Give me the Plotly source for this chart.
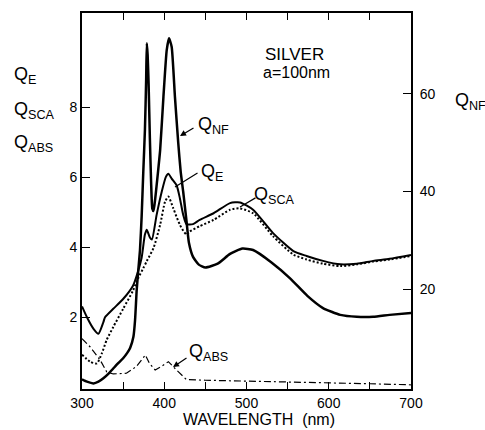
import plotly.graph_objects as go

# ---- data ----
wl_nf = [300, 306, 314, 320, 326, 332, 338, 344, 350, 355, 358.5, 362.5, 364.5, 366.5, 368.5,
         370.5, 372.5, 374.5, 376.5, 378, 378.8, 379.8, 381, 382.5, 384, 385.5, 387, 389, 391,
         395, 399, 403, 405.8, 409, 413, 417, 420, 423, 427, 430, 435, 442, 450, 465, 480, 495,
         508, 530, 553, 574, 593, 614, 634, 654, 674, 700]
q_nf = [1.5, 1.0, 0.65, 1.0, 1.7, 2.6, 3.7, 4.8, 5.8, 6.9, 7.9, 10.2, 13.6, 19.8, 24,
        28, 34.8, 44, 52.6, 63, 70.4, 68, 62, 51, 42, 36.5, 36, 38.5, 41.7,
        48.5, 59.4, 69, 71.4, 69.7, 59.4, 50, 44, 40, 34, 29.5, 26.6, 25.0, 24.4, 25.2, 27.2, 28.3,
        28.0, 25.5, 22.2, 18.6, 16.1, 14.7, 14.3, 14.3, 14.7, 15.1]

wl_e = [300, 306, 314, 320, 326, 328, 338, 350, 362, 368, 372.5, 376.5, 378.7, 382.7, 385,
        390.8, 397, 402, 405, 409, 415, 419, 423, 427, 435, 443, 460, 480, 492, 508, 532, 557,
        573, 593, 614, 634, 654, 674, 700]
q_e = [2.31, 2.0, 1.67, 1.53, 1.86, 2.0, 2.24, 2.52, 2.9, 3.3, 3.7, 4.36, 4.5, 4.27, 4.22,
       4.93, 5.59, 6.01, 6.1, 5.96, 5.77, 5.4, 4.93, 4.66, 4.66, 4.78, 4.97, 5.26, 5.28, 5.07, 4.41, 3.89,
       3.75, 3.61, 3.51, 3.53, 3.61, 3.67, 3.78]

wl_sca = [300, 310, 318, 324, 330, 338, 350, 362, 368, 374.5, 378.7, 387, 395, 401, 405, 411,
          419, 427, 431, 443, 460, 480, 492, 508, 532, 557, 573, 593, 614, 634, 654, 674, 700]
q_sca = [0.93, 0.73, 0.68, 0.96, 1.35, 1.72, 2.24, 2.76, 3.1, 3.4, 3.6, 3.98, 4.64, 5.3, 5.45, 5.11,
         4.64, 4.36, 4.45, 4.6, 4.78, 5.07, 5.11, 4.97, 4.32, 3.79, 3.65, 3.53, 3.46, 3.51, 3.59, 3.65, 3.75]

wl_abs = [300, 310, 322, 330, 338, 354, 366, 371, 377, 382, 389, 397, 405, 415, 427, 450, 500,
          550, 600, 650, 700]
q_abs = [1.39, 1.15, 0.78, 0.44, 0.38, 0.4, 0.59, 0.75, 0.92, 0.68, 0.49, 0.6, 0.73, 0.49, 0.22, 0.2, 0.18,
         0.15, 0.12, 0.1, 0.07]

x_tickvals = [300, 350, 400, 450, 500, 550, 600, 650, 700]
x_ticktext = ["300", "", "400", "", "500", "", "600", "", "700"]
yl_tickvals = [2, 4, 6, 8]
yr_tickvals = [20, 40, 60]

FONT = "Liberation Sans"
W, H = 485, 430
L, R, T, B = 82, 74, 13, 41

def px(xp):
    return (xp - L) / (W - L - R)

def py(yp):
    return (H - B - yp) / (H - T - B)

fig = go.Figure()
fig.add_trace(go.Scatter(x=wl_nf, y=q_nf, yaxis="y2", mode="lines",
                         line=dict(color="black", width=2.5, shape="spline", smoothing=0.5)))
fig.add_trace(go.Scatter(x=wl_e, y=q_e, mode="lines",
                         line=dict(color="black", width=2, shape="spline", smoothing=0.6)))
fig.add_trace(go.Scatter(x=wl_sca, y=q_sca, mode="lines",
                         line=dict(color="black", width=2, dash="2px,2px", shape="spline", smoothing=0.6)))
fig.add_trace(go.Scatter(x=wl_abs, y=q_abs, mode="lines",
                         line=dict(color="black", width=1.2, dash="7px,3px,2px,3px")))

ann = []
def label(txt, xp, yp, size=18, xanchor="left"):
    ann.append(dict(text=txt, x=px(xp), y=py(yp), xref="paper", yref="paper",
                    xanchor=xanchor, yanchor="middle", showarrow=False,
                    font=dict(family=FONT, size=size, color="black")))

# outside left labels
label("Q<sub>E</sub>", 12, 76)
label("Q<sub>SCA</sub>", 12, 110)
label("Q<sub>ABS</sub>", 12, 143)
# right label
label("Q<sub>NF</sub>", 453, 101)
# inner labels
label("Q<sub>NF</sub>", 196, 125)
label("Q<sub>E</sub>", 199, 172)
label("Q<sub>SCA</sub>", 252, 195)
label("Q<sub>ABS</sub>", 187, 352)
label("SILVER", 294, 54, size=17, xanchor="center")
label("a=100nm", 296, 72, size=16, xanchor="center")
label("WAVELENGTH  (nm)", 259, 419, size=16, xanchor="center")

def arrow(xh, yh, xt, yt, head):
    ann.append(dict(text="", x=px(xh), y=py(yh), xref="paper", yref="paper",
                    ax=xt - xh, ay=yt - yh, axref="pixel", ayref="pixel",
                    showarrow=True, arrowhead=head, arrowsize=1, arrowwidth=1.2,
                    arrowcolor="black", standoff=0, startstandoff=0))

arrow(180, 136, 195, 127, 2)
arrow(175, 187, 199, 172, 0)
arrow(240, 207, 257, 197, 0)
arrow(173, 367, 188, 357, 2)

tickfont = dict(family=FONT, size=14, color="black")
fig.update_layout(
    template="none",
    width=W, height=H,
    margin=dict(l=L, r=R, t=T, b=B, pad=0),
    paper_bgcolor="white", plot_bgcolor="white",
    showlegend=False,
    annotations=ann,
    xaxis=dict(range=[300, 700], tickvals=x_tickvals, ticktext=x_ticktext,
               ticks="inside", ticklen=7, tickwidth=1.2, tickcolor="black",
               showline=True, linewidth=2, linecolor="black", mirror="ticks",
               showgrid=False, zeroline=False, tickfont=tickfont, automargin=False),
    yaxis=dict(range=[-0.05, 10.69], tickvals=yl_tickvals,
               ticks="inside", ticklen=8, tickwidth=1.2, tickcolor="black",
               showline=True, linewidth=2, linecolor="black", mirror=False,
               showgrid=False, zeroline=False, tickfont=tickfont, automargin=False),
    yaxis2=dict(range=[-0.5, 76.6], tickvals=yr_tickvals, overlaying="y", side="right",
                ticks="inside", ticklen=8, tickwidth=1.2, tickcolor="black",
                showline=True, linewidth=2, linecolor="black", ticklabelstandoff=4,
                showgrid=False, zeroline=False, tickfont=tickfont, automargin=False),
)

fig.write_html("out.html", config={"displayModeBar": False},
               post_script="document.body.style.margin='0';document.body.style.overflow='hidden';")
